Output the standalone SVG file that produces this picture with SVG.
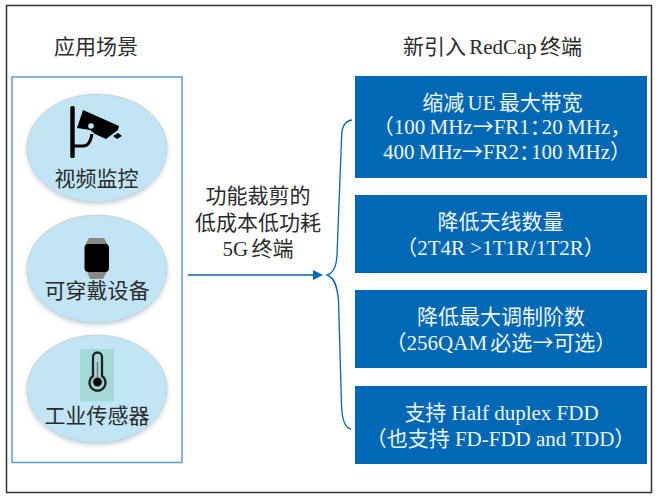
<svg xmlns="http://www.w3.org/2000/svg" width="659" height="500" viewBox="0 0 659 500">
<defs>
<filter id="sh" x="-10%" y="-10%" width="120%" height="125%"><feDropShadow dx="0" dy="2" stdDeviation="2" flood-color="#8fa6b5" flood-opacity="0.5"/></filter>
</defs>
<style>
text{font-family:"Liberation Serif","Noto Sans CJK SC",serif;font-size:21px;text-anchor:middle;fill:#2b2b2b}
.w{fill:#f0f6fb}
.ar{font-family:"Noto Sans CJK SC",sans-serif}
.tight{word-spacing:-2px}
.t1{word-spacing:-1px}
.box{fill:#0068b5}
.el{fill:#c2e5f5;stroke:#c9d3d8;stroke-width:1;filter:url(#sh)}
.con{fill:none;stroke:#0068b5;stroke-width:1.3}
</style>
<rect width="659" height="500" fill="#fff"/>
<rect id="frame" x="6.500" y="5.500" width="645" height="487" fill="none" stroke="#333" stroke-width="1.500"/>
<text id="title-left" x="96" y="54">应用场景</text>
<text id="title-right" class="tight" x="492.500" y="54">新引入 RedCap 终端</text>
<rect id="panel" x="12" y="77" width="170" height="385.500" fill="#fff" stroke="#5b9bd5" stroke-width="1.500"/>
<g id="node-camera">
<ellipse class="el" cx="97" cy="148" rx="70" ry="54"/>
<rect x="70.300" y="106" width="4.400" height="52" rx="1.500" fill="#000"/>
<path d="M74 146H83Q90 146 92 134" fill="none" stroke="#000" stroke-width="3"/>
<path d="M83 110L119 126L118 130L106 139L95 134L90 130L77 128Z" fill="#000"/>
<circle cx="91" cy="126" r="2.800" fill="#c2e5f5"/>
<path d="M113 136L118 133L122 136L117 139Z" fill="#000"/>
<text x="96.500" y="186">视频监控</text>
</g>
<g id="node-wearable">
<ellipse class="el" cx="97" cy="269" rx="70" ry="54"/>
<path d="M89 238H104L108 245H85ZM87 271H107L103 279H90Z" fill="#888"/>
<rect x="84.500" y="244" width="24.500" height="28" rx="4" fill="#000"/>
<text x="97" y="298">可穿戴设备</text>
</g>
<g id="node-sensor">
<ellipse class="el" cx="97" cy="389" rx="70" ry="54"/>
<rect x="80" y="349" width="34" height="52.500" fill="#a3dad8"/>
<path d="M93 376V357A4.500 4.500 0 0 1 102 357V376A8 8 0 1 1 93 376Z" fill="#a3dad8" stroke="#222" stroke-width="2.300"/>
<path d="M97.500 362V378" stroke="#777" stroke-width="1.500"/>
<circle cx="97.500" cy="382" r="4.600" fill="#000" stroke="#888" stroke-width="1"/>
<text x="97" y="423">工业传感器</text>
</g>
<g id="label-middle">
<text x="258" y="203">功能裁剪的</text>
<text x="258" y="230">低成本低功耗</text>
<text class="tight" x="258" y="256">5G 终端</text>
</g>
<g id="connectors">
<path class="con" d="M188 275H316"/>
<path d="M313 270L323 275L313 280Z" fill="#0068b5"/>
<path class="con" d="M352 120C345 121 342 126 341.700 135L337 255C336.500 266 334 273 327 275C334 277 337 285 338.500 300L341.500 405C342 420 345 428 351 429"/>
</g>
<g id="box-1">
<rect class="box" x="355" y="76" width="292" height="102"/>
<text class="w tight" x="502.500" y="110">缩减 UE 最大带宽</text>
<text class="w t1" x="502" y="134">（100 MHz<tspan class="ar">→</tspan>FR1：<tspan dx="-9">20 MHz，</tspan></text>
<text class="w t1" x="507" y="159">400 MHz<tspan class="ar">→</tspan>FR2：<tspan dx="-9">100 MHz）</tspan></text>
</g>
<g id="box-2">
<rect class="box" x="355" y="195" width="292" height="78"/>
<text class="w" x="500.500" y="229">降低天线数量</text>
<text class="w" x="500.500" y="255">（2T4R &gt;1T1R/1T2R）</text>
</g>
<g id="box-3">
<rect class="box" x="355" y="290" width="292" height="78"/>
<text class="w" x="501" y="324">降低最大调制阶数</text>
<text class="w tight" x="501" y="350">（256QAM 必选<tspan class="ar">→</tspan>可选）</text>
</g>
<g id="box-4">
<rect class="box" x="355" y="386" width="292" height="78"/>
<text class="w" x="501.500" y="420">支持 Half duplex FDD</text>
<text class="w" x="500.500" y="446">（也支持 FD-FDD and TDD）</text>
</g>
</svg>
